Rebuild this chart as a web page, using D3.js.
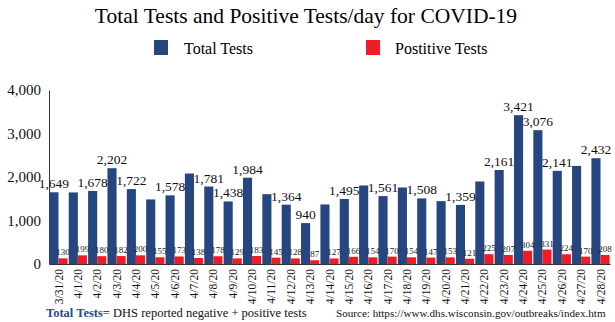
<!DOCTYPE html>
<html><head><meta charset="utf-8">
<script src="https://cdn.jsdelivr.net/npm/d3@7"></script>
<style>body{margin:0;background:#fff}svg{display:block}text{font-family:"Liberation Serif","Times New Roman",serif}</style>
</head><body><svg id="c" width="615" height="322"></svg>
<script>
const dates = ["3/31/20","4/1/20","4/2/20","4/3/20","4/4/20","4/5/20","4/6/20","4/7/20","4/8/20","4/9/20","4/10/20","4/11/20","4/12/20","4/13/20","4/14/20","4/15/20","4/16/20","4/17/20","4/18/20","4/19/20","4/20/20","4/21/20","4/22/20","4/23/20","4/24/20","4/25/20","4/26/20","4/27/20","4/28/20"];
const totalTests = [1649,1645,1678,2202,1722,1484,1578,2080,1781,1438,1984,1605,1364,940,1369,1495,1805,1561,1759,1508,1445,1359,1897,2161,3421,3076,2141,2255,2432];
const totalLabelShown = [1,0,1,1,1,0,1,0,1,1,1,0,1,1,0,1,0,1,0,1,0,1,0,1,1,1,1,0,1];
const positiveTests = [130,199,180,182,200,155,173,138,178,129,183,145,128,87,127,166,154,170,154,147,153,121,225,207,304,331,224,170,208];
const yTicks = [0,1000,2000,3000,4000];

const svg = d3.select("#c");
const blue = "#26467f", red = "#ee1c25";
const x = d3.scaleBand().domain(dates).range([49,610]).paddingInner(0.06).paddingOuter(0.02);
const y = d3.scaleLinear().domain([0,4000]).range([264,90]);
const fmt = d3.format(",");
const bw = x.bandwidth()/2;

svg.append("text").attr("x",306).attr("y",23).attr("text-anchor","middle")
  .style("font-size","21.5px").text("Total Tests and Positive Tests/day for COVID-19");

// legend
svg.append("rect").attr("x",154).attr("y",40).attr("width",14).attr("height",15).attr("fill",blue);
svg.append("text").attr("x",184).attr("y",54).style("font-size","16px").text("Total Tests");
svg.append("rect").attr("x",366).attr("y",40).attr("width",14).attr("height",15).attr("fill",red);
svg.append("text").attr("x",395).attr("y",54).style("font-size","16px").text("Postitive Tests");

// y axis
const ya = svg.append("g").attr("transform","translate(49,0)")
  .call(d3.axisLeft(y).tickValues(yTicks).tickFormat(fmt).tickSize(0).tickPadding(8));
ya.select(".domain").attr("stroke","#333");
ya.selectAll("text").style("font-size","15px").style("font-family","Liberation Serif, serif").attr("fill","#111");

// bars
const g = svg.append("g");
g.selectAll("rect.t").data(totalTests).join("rect")
  .attr("x",(d,i)=>x(dates[i])).attr("y",d=>y(d)).attr("width",bw).attr("height",d=>y(0)-y(d)).attr("fill",blue);
g.selectAll("rect.p").data(positiveTests).join("rect")
  .attr("x",(d,i)=>x(dates[i])+bw).attr("y",d=>y(d)).attr("width",bw).attr("height",d=>y(0)-y(d)).attr("fill",red);

// labels
g.selectAll("text.t").data(totalTests).join("text")
  .attr("x",(d,i)=>x(dates[i])+bw/2).attr("y",d=>y(d)-4).attr("text-anchor","middle")
  .style("font-size","13.5px").attr("fill","#111")
  .text((d,i)=>totalLabelShown[i]?fmt(d):"");
g.selectAll("text.p").data(positiveTests).join("text")
  .attr("x",(d,i)=>x(dates[i])+bw*1.5).attr("y",d=>y(d)-3).attr("text-anchor","middle")
  .style("font-size","9px").attr("fill","#222")
  .text(d=>d);

// x axis
const xa = svg.append("g").attr("transform","translate(0,264)")
  .call(d3.axisBottom(x).tickSize(0).tickPadding(0));
xa.select(".domain").attr("stroke","#333");
xa.selectAll("text").style("font-size","11.5px").style("font-family","Liberation Serif, serif").attr("fill","#111")
  .attr("transform","rotate(-90)").attr("text-anchor","end").attr("dx","-5px").attr("dy","0.35em").attr("x",0).attr("y",0);

// footnotes
const f = svg.append("text").attr("x",46).attr("y",317).style("font-size","12.5px");
f.append("tspan").attr("fill","#2b4a8b").style("font-weight","bold").text("Total Tests");
f.append("tspan").attr("fill","#111").text("= DHS reported negative + positive tests");
svg.append("text").attr("x",336).attr("y",317).style("font-size","11.1px").attr("fill","#111")
  .text("Source: https://www.dhs.wisconsin.gov/outbreaks/index.htm");
</script></body></html>
